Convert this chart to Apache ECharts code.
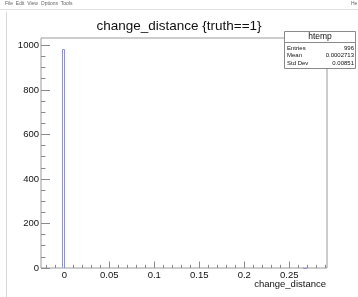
<!DOCTYPE html>
<html>
<head>
<meta charset="utf-8">
<script src="https://cdn.jsdelivr.net/npm/echarts@6/dist/echarts.min.js"></script>
<style>
  html, body { margin: 0; padding: 0; background: #fff; }
  #chart { width: 358px; height: 297px; }
</style>
</head>
<body>
<div id="chart"></div>
<script>
// histogram bins (low edge, high edge, entries)
var binLow = [-0.0031, 0.2655];
var binHigh = [0.0, 0.2685];
var binCount = [984, 1];

// axis ticks
var xMajor = [0, 0.05, 0.1, 0.15, 0.2, 0.25];
var xMinor = [-0.02, -0.01, 0.01, 0.02, 0.03, 0.04, 0.06, 0.07, 0.08, 0.09, 0.11, 0.12, 0.13, 0.14,
    0.16, 0.17, 0.18, 0.19, 0.21, 0.22, 0.23, 0.24, 0.26, 0.27, 0.28, 0.29];
var yMajor = [0, 200, 400, 600, 800, 1000];
var yMinor = [50, 100, 150, 250, 300, 350, 450, 500, 550, 650, 700, 750, 850, 900, 950];

// stats box
var statNames = ['Entries', 'Mean', 'Std Dev'];
var statValues = ['996', '0.0002713', '0.00851'];

var X_MIN = -0.0259, X_MAX = 0.2919, Y_MAX = 1033;

var histData = binLow.map(function (lo, i) {
    return [lo, binHigh[i], binCount[i]];
});

var font = 'Liberation Sans, Arial, sans-serif';
var chart = echarts.init(document.getElementById('chart'));

function xAxisCfg(ticks, len, labels) {
    return {
        type: 'value', min: X_MIN, max: X_MAX, position: 'bottom', offset: 0,
        axisLine: { show: false, onZero: false },
        splitLine: { show: false },
        axisTick: { show: true, inside: true, length: len, customValues: ticks,
            lineStyle: { color: '#8a8a8a', width: 1 } },
        axisLabel: labels ? {
            show: true, customValues: ticks, fontSize: 9.5, fontFamily: font, color: '#111', margin: 2,
            formatter: function (v) { return String(+v.toFixed(3)); }
        } : { show: false }
    };
}
function yAxisCfg(ticks, len, labels) {
    return {
        type: 'value', min: 0, max: Y_MAX, position: 'left', offset: 0,
        axisLine: { show: false, onZero: false },
        splitLine: { show: false },
        axisTick: { show: true, inside: true, length: len, customValues: ticks,
            lineStyle: { color: '#8a8a8a', width: 1 } },
        axisLabel: labels ? {
            show: true, customValues: ticks, fontSize: 9.5, fontFamily: font, color: '#111', margin: 2,
            formatter: function (v) { return String(v); }
        } : { show: false }
    };
}

var graphics = [
    // canvas / menu decorations
    { type: 'line', shape: { x1: 0, y1: 9.5, x2: 358, y2: 9.5 }, style: { stroke: '#e2e2e2', lineWidth: 1 } },
    { type: 'line', shape: { x1: 6.5, y1: 12, x2: 6.5, y2: 297 }, style: { stroke: '#d8d8d8', lineWidth: 1 } },
    { type: 'text', left: 5, top: 1, style: { text: 'File  Edit  View  Options  Tools', fontSize: 5, fontFamily: font, fill: '#666' } },
    { type: 'text', left: 351, top: 1, style: { text: 'He', fontSize: 5, fontFamily: font, fill: '#666' } },
    // axis title
    { type: 'text', right: 32, top: 279, style: { text: 'change_distance', fontSize: 9.5, fontFamily: font, fill: '#111' } },
    // stats box
    { type: 'rect', shape: { x: 284.5, y: 31.5, width: 71, height: 37 }, style: { fill: '#fff', stroke: '#8a8a8a', lineWidth: 1 }, z: 10 },
    { type: 'line', shape: { x1: 284.5, y1: 42.5, x2: 355.5, y2: 42.5 }, style: { stroke: '#8a8a8a', lineWidth: 1 }, z: 10 },
    { type: 'text', x: 320, y: 37, style: { text: 'htemp', fontSize: 8.5, fontFamily: font, fill: '#111', align: 'center', verticalAlign: 'middle' }, z: 11 }
];
statNames.forEach(function (n, i) {
    var y = 48 + i * 7.6;
    graphics.push({ type: 'text', x: 287, y: y, style: { text: n, fontSize: 6, fontFamily: font, fill: '#111', verticalAlign: 'middle' }, z: 11 });
    graphics.push({ type: 'text', x: 354, y: y, style: { text: statValues[i], fontSize: 6, fontFamily: font, fill: '#111', align: 'right', verticalAlign: 'middle' }, z: 11 });
});

var option = {
    backgroundColor: '#fff',
    animation: false,
    title: {
        text: 'change_distance {truth==1}',
        left: 'center', top: 14,
        textStyle: { fontSize: 13.5, fontWeight: 'normal', fontFamily: font, color: '#111' }
    },
    grid: {
        left: 41, right: 31, top: 38, bottom: 29,
        show: true, borderColor: '#9a9a9a', borderWidth: 1, backgroundColor: 'transparent'
    },
    xAxis: [xAxisCfg(xMajor, 6.5, true), xAxisCfg(xMinor, 3.2, false)],
    yAxis: [yAxisCfg(yMajor, 9, true), yAxisCfg(yMinor, 4.5, false)],
    series: [{
        type: 'custom',
        xAxisIndex: 0, yAxisIndex: 0,
        data: histData,
        encode: { x: [0, 1], y: 2 },
        renderItem: function (params, api) {
            var p0 = api.coord([api.value(0), api.value(2)]);
            var p1 = api.coord([api.value(1), 0]);
            var x0 = Math.round(p0[0]) + 0.5, x1 = Math.round(p1[0]) + 0.5;
            var y0 = Math.round(p0[1]) + 0.5, y1 = Math.round(p1[1]) - 0.5;
            return {
                type: 'polyline',
                shape: { points: [[x0, y1], [x0, y0], [x1, y0], [x1, y1]] },
                style: { fill: null, stroke: '#9090e0', lineWidth: 1 }
            };
        }
    }],
    graphic: graphics
};
chart.setOption(option);
</script>
</body>
</html>
